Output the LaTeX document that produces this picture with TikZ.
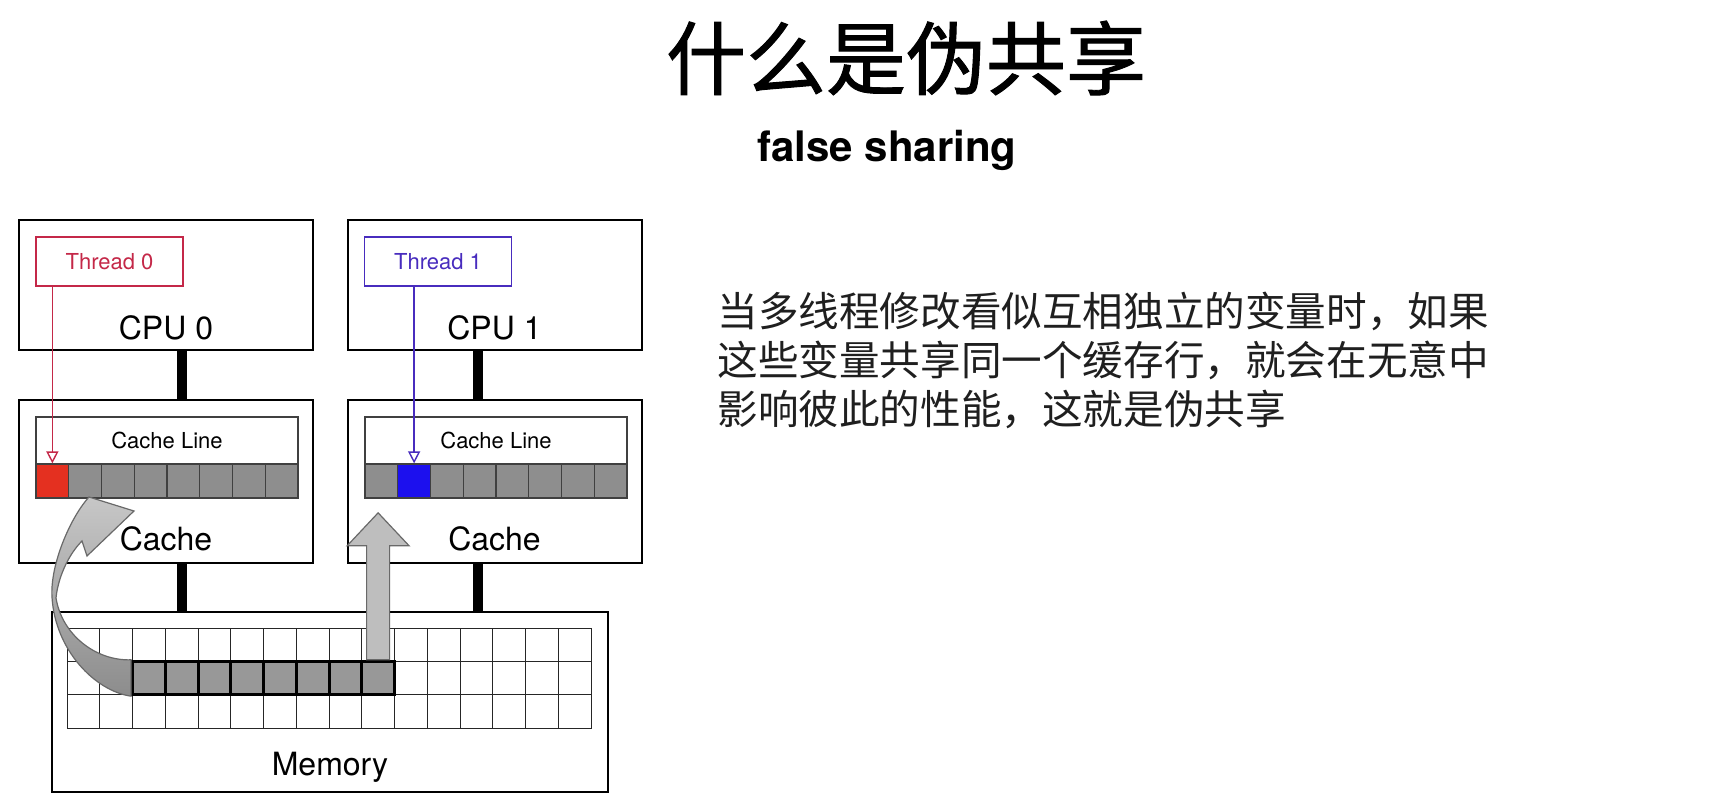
\documentclass[tikz,border=0pt]{standalone}
\usepackage{fontspec}
\setmainfont{TeX Gyre Heros}
\newfontfamily\cjk{Noto Sans CJK SC}
\newfontfamily\cjktitle[FakeBold=1.2]{Noto Sans CJK SC}
\usetikzlibrary{arrows.meta,positioning,calc}

\definecolor{thrred}{RGB}{196,40,72}
\definecolor{thrblue}{RGB}{72,44,190}
\definecolor{cellred}{RGB}{228,48,32}
\definecolor{cellblue}{RGB}{28,16,238}
\definecolor{cellgray}{RGB}{142,142,142}
\definecolor{memgray}{RGB}{152,152,152}
\definecolor{arrowgray}{RGB}{190,190,190}
\definecolor{arrowedge}{RGB}{105,105,105}

\begin{document}
\begin{tikzpicture}[x=0.5pt,y=-0.5pt,
  box/.style={draw,line width=1pt,inner sep=0pt},
  thrbox/.style={draw=#1,line width=0.6pt,inner sep=0pt,text=#1,
    minimum width=73.5pt,minimum height=24.5pt,font=\fontsize{11}{13}\selectfont},
  bus/.style={line width=5pt},
  lbl/.style={font=\fontsize{16}{19}\selectfont},
  cell/.style={draw=black!75,line width=0.6pt,fill=cellgray,inner sep=0pt,
    minimum width=16.375pt,minimum height=17pt},
  memcell/.style={draw=black!85,line width=0.5pt,inner sep=0pt,
    minimum width=16.375pt,minimum height=16.67pt},
  hotcell/.style={memcell,fill=memgray,line width=1.5pt,draw=black}]
\useasboundingbox (0,0) rectangle (1724,812);

%title
\node (title) at (906,58) {\cjktitle\fontsize{40}{44}\selectfont 什么是伪共享};
\node (sub) at (887,150) {\bfseries\fontsize{21}{25}\selectfont false sharing};

%cpus and caches
\node[box,minimum width=147pt,minimum height=65pt] (cpu0) at (166,285) {};
\node[box,minimum width=147pt,minimum height=65pt] (cpu1) at (494.5,285) {};
\node[box,minimum width=147pt,minimum height=81.5pt] (cache0) at (166,481.5) {};
\node[box,minimum width=147pt,minimum height=81.5pt] (cache1) at (494.5,481.5) {};
\node[box,minimum width=278pt,minimum height=90pt] (mem) at (330,702) {};

\node[lbl] (cpu0txt) at ([yshift=11.5pt]cpu0.south) {CPU 0};
\node[lbl] (cpu1txt) at ([yshift=11.5pt]cpu1.south) {CPU 1};
\node[lbl] (cache0txt) at ([yshift=12.5pt]cache0.south) {Cache};
\node[lbl] (cache1txt) at ([yshift=12.5pt]cache1.south) {Cache};
\node[lbl] (memtxt) at ([yshift=13pt]mem.south) {Memory};

%buses
\coordinate (bus0) at ([xshift=82pt]cache0.south west);
\coordinate (bus1) at ([xshift=65.5pt]cache1.south west);
\draw[bus] (bus0 |- cpu0.south) -- (bus0 |- cache0.north);
\draw[bus] (bus1 |- cpu1.south) -- (bus1 |- cache1.north);
\draw[bus] (bus0) -- (bus0 |- mem.north);
\draw[bus] (bus1) -- (bus1 |- mem.north);

%threads
\node[thrbox=thrred] (thr0) at (109.5,261.5) {Thread 0};
\node[thrbox=thrblue] (thr1) at (438,261.5) {Thread 1};

%cache lines
\node[draw=black!75,line width=0.6pt,minimum width=131pt,minimum height=23.5pt,
  font=\fontsize{11}{13}\selectfont] (line0) at (167,440.5) {Cache Line};
\node[draw=black!75,line width=0.6pt,minimum width=131pt,minimum height=23.5pt,
  font=\fontsize{11}{13}\selectfont] (line1) at (496,440.5) {Cache Line};
\foreach \i in {0,...,7} {
  \node[cell] (c0-\i) at ({52.375+32.75*\i},481) {};
  \node[cell] (c1-\i) at ({381.375+32.75*\i},481) {};
}
\node[cell,fill=cellred] (red) at (c0-0) {};
\node[cell,fill=cellblue] (blue) at (c1-1) {};

\draw[thrred,line width=0.7pt,-{Triangle[open,length=6pt,width=6pt]}]
  (red.north |- thr0.south) -- (red.north);
\draw[thrblue,line width=0.7pt,-{Triangle[open,length=6pt,width=6pt]}]
  (blue.north |- thr1.south) -- (blue.north);

%memory grid
\foreach \r in {0,1,2}
  \foreach \c in {0,...,15}
    \node[memcell] (m-\r-\c) at ({83.375+32.75*\c},{644.67+33.33*\r}) {};
\foreach \c in {2,...,9}
  \node[hotcell] (h-\c) at (m-1-\c) {};

%load arrows
\filldraw[fill=arrowgray,draw=arrowedge,line width=0.6pt]
  ($(h-9.north)+(-11.5,0)$) -- ($(h-9.north)+(-11.5,-114)$)
  -- ($(h-9.north)+(-31,-114)$) -- ($(h-9.north)+(0,-147)$)
  -- ($(h-9.north)+(31,-114)$) -- ($(h-9.north)+(11.5,-114)$)
  -- ($(h-9.north)+(11.5,0)$) -- cycle;
\shade[top color=black!22,bottom color=black!45,draw=arrowedge,line width=0.6pt]
  (h-2.south west) .. controls (95,691) and (55,650) .. (52,597)
  .. controls (50,565) and (70,518) .. (89,497) -- (134,511) -- (87,556)
  -- (82,541) .. controls (68,555) and (58,578) .. (56,598)
  .. controls (62,635) and (96,661) .. (h-2.north west) -- cycle;

%text
\node[anchor=north west,inner sep=0pt,align=left,text=black!88,
  font=\cjk\fontsize{20.3}{24.5}\selectfont] (desc) at (717,292)
  {当多线程修改看似互相独立的变量时，如果\\这些变量共享同一个缓存行，就会在无意中\\影响彼此的性能，这就是伪共享};
\end{tikzpicture}
\end{document}
